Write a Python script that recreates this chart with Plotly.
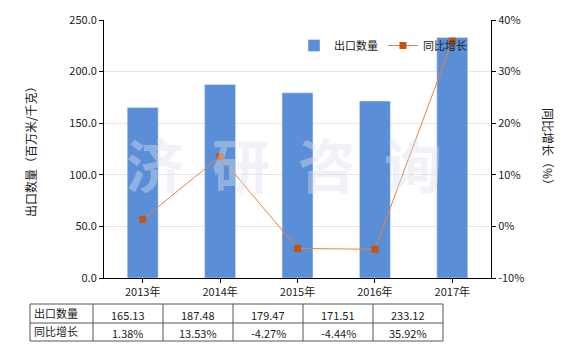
import plotly.graph_objects as go

years = ["2013年", "2014年", "2015年", "2016年", "2017年"]
export_qty = [165.13, 187.48, 179.47, 171.51, 233.12]
growth = [1.38, 13.53, -4.27, -4.44, 35.92]
qty_labels = ["165.13", "187.48", "179.47", "171.51", "233.12"]
growth_labels = ["1.38%", "13.53%", "-4.27%", "-4.44%", "35.92%"]
row_names = ["出口数量", "同比增长"]
left_ticks = [0, 50, 100, 150, 200, 250]
right_ticks = [-10, 0, 10, 20, 30, 40]
right_tick_text = ["-10%", "0%", "10%", "20%", "30%", "40%"]
watermark_chars = ["济", "研", "咨", "询"]

FONT = "Noto Sans CJK SC"
W, H = 580, 350
L, R, T, B = 104, 89, 20, 72
PW, PH = W - L - R, H - T - B


def px(x):
    return (x - L) / PW


def py(y):
    return (H - B - y) / PH


fig = go.Figure()
fig.add_trace(go.Bar(x=years, y=export_qty, name="出口数量", marker_color="#5a8ed6",
                     width=0.4, yaxis="y"))
fig.add_trace(go.Scatter(x=years, y=growth, name="同比增长", yaxis="y2", mode="lines+markers",
                         line=dict(color="#e8833a", width=1),
                         marker=dict(symbol="square", size=7, color="#c65312")))

# watermark
for i, ch in enumerate(watermark_chars):
    fig.add_annotation(text="<b>" + ch + "</b>", x=px(155 + i * 86), y=py(163), xref="paper", yref="paper",
                       xanchor="center", yanchor="middle", showarrow=False, borderpad=0,
                       font=dict(family=FONT, size=58, color="rgba(219,225,238,0.42)"))

# axis titles
fig.add_annotation(text="出口数量（百万米/千克）", x=px(30), y=py(149), xref="paper", yref="paper",
                   xanchor="center", yanchor="middle", textangle=-90, showarrow=False,
                   font=dict(family=FONT, size=12, color="#222"))
fig.add_annotation(text="同比增长（%）", x=px(549), y=py(149), xref="paper", yref="paper",
                   xanchor="center", yanchor="middle", textangle=90, showarrow=False,
                   font=dict(family=FONT, size=12, color="#222"))

# data table
col_edges = [30, 93, 163, 233, 303, 373, 443]
row_edges = [304, 323, 341]
line_style = dict(color="#555", width=1)
for xe in col_edges:
    fig.add_shape(type="line", xref="paper", yref="paper", x0=px(xe), x1=px(xe),
                  y0=py(row_edges[0]), y1=py(row_edges[-1]), line=line_style)
for ye in row_edges:
    fig.add_shape(type="line", xref="paper", yref="paper", x0=px(col_edges[0]), x1=px(col_edges[-1]),
                  y0=py(ye), y1=py(ye), line=line_style)
rows = [qty_labels, growth_labels]
for r in range(2):
    yc = (row_edges[r] + row_edges[r + 1]) / 2
    fig.add_annotation(text=row_names[r], x=px(col_edges[0] + 2), y=py(yc - 1), xref="paper", yref="paper",
                       xanchor="left", yanchor="middle", showarrow=False,
                       font=dict(family=FONT, size=11, color="#222"))
    for c in range(5):
        xc = (col_edges[c + 1] + col_edges[c + 2]) / 2
        fig.add_annotation(text=rows[r][c], x=px(xc), y=py(yc + 1), xref="paper", yref="paper",
                           xanchor="center", yanchor="middle", showarrow=False,
                           font=dict(family=FONT, size=11, color="#222"))

fig.update_layout(
    width=W, height=H, margin=dict(l=L, r=R, t=T, b=B),
    paper_bgcolor="white", plot_bgcolor="white",
    font=dict(family=FONT, size=11, color="#222"),
    showlegend=True,
    legend=dict(orientation="h", x=px(294), y=py(31), xanchor="left", yanchor="top",
                bgcolor="rgba(0,0,0,0)", font=dict(size=11), itemwidth=30, tracegroupgap=0),
    xaxis=dict(showline=True, linecolor="black", ticks="outside", ticklen=4, tickcolor="black",
               showgrid=False, tickfont=dict(size=11)),
    yaxis=dict(range=[0, 250], tickvals=left_ticks, tickformat=".1f", showline=True,
               linecolor="black", ticks="outside", ticklen=4, tickcolor="black",
               gridcolor="#e8e6de", zeroline=False, tickfont=dict(size=11)),
    yaxis2=dict(range=[-10, 40], tickmode="array", tickvals=right_ticks, ticktext=right_tick_text,
                overlaying="y", side="right", showline=True, linecolor="black", ticks="outside",
                ticklen=4, tickcolor="black", showgrid=False, zeroline=False, tickfont=dict(size=11)),
)

fig.write_html("out.html")
